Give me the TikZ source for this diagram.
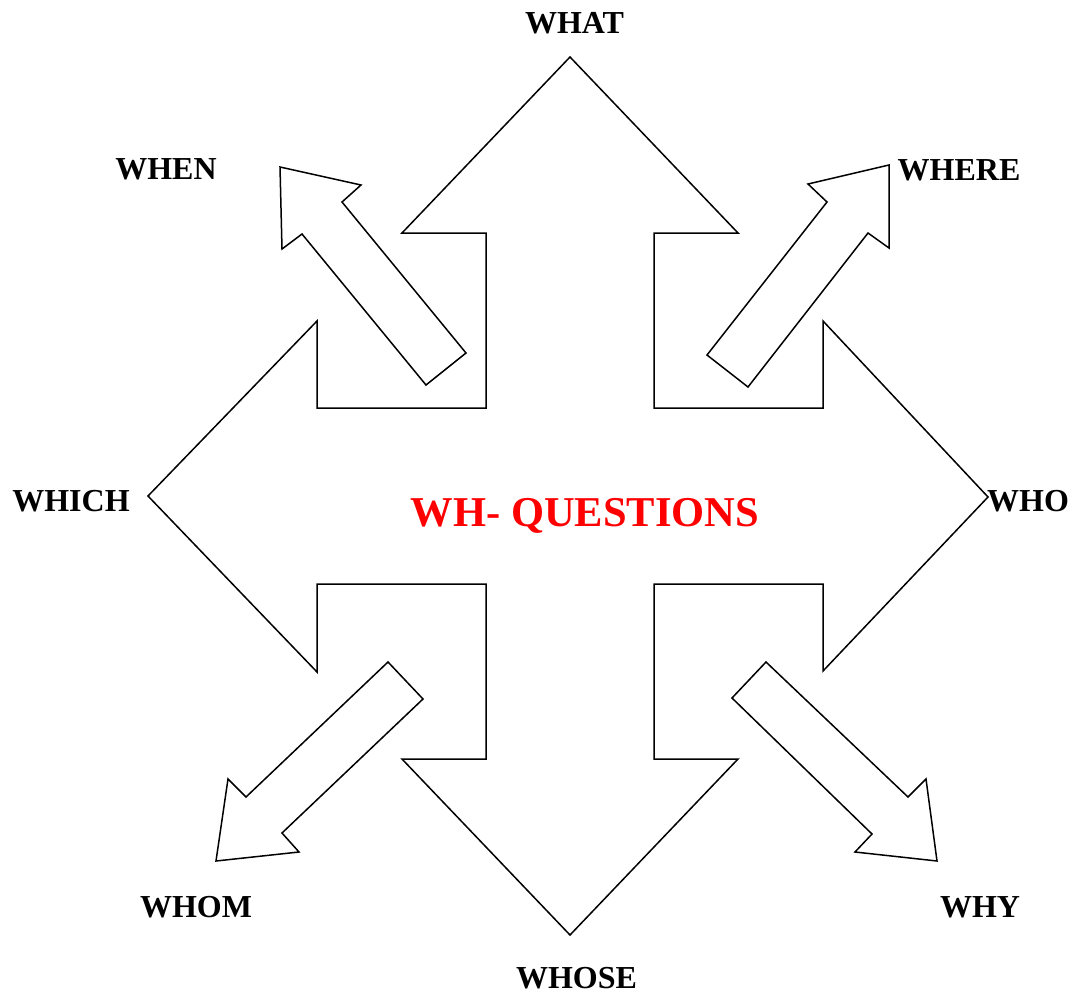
\documentclass[tikz,border=0pt]{standalone}
\usepackage{fontspec}
\setmainfont{Liberation Serif}
\begin{document}
\begin{tikzpicture}[x=1pt,y=-1pt,
  blockarrow/.style={draw=black,fill=white,line width=1.5pt,line join=miter},
  qlabel/.style={anchor=base,inner sep=0pt,font=\fontsize{32}{32}\selectfont\bfseries},
  title/.style={anchor=base,inner sep=0pt,text=red,font=\fontsize{42.5}{42.5}\selectfont\bfseries}]
\useasboundingbox (0,0) rectangle (1079,996);

% four-way block arrow in the middle
\draw[blockarrow] (570,57) -- (738,233) -- (654,233) -- (654,408) -- (823,408)
  -- (823,321) -- (988,497) -- (823,671) -- (823,584) -- (654,584) -- (654,759)
  -- (738,759) -- (570,935) -- (402,759) -- (486,759) -- (486,584) -- (317,584)
  -- (317,672) -- (148,496) -- (317,321) -- (317,408) -- (486,408) -- (486,233)
  -- (402,233) -- cycle;

% diagonal arrows
\draw[blockarrow] (280,167) -- (361,185) -- (342,202) -- (466,353) -- (426,385)
  -- (302,234) -- (282,249) -- cycle;
\draw[blockarrow] (889,165) -- (889,248) -- (868,233) -- (748,387) -- (707,355)
  -- (827,202) -- (808,184) -- cycle;
\draw[blockarrow] (388,662) -- (423,699) -- (282,833) -- (299,852) -- (216,861)
  -- (228,779) -- (246,797) -- cycle;
\draw[blockarrow] (766,662) -- (732,698) -- (872,834) -- (855,852) -- (937,861)
  -- (926,779) -- (908,797) -- cycle;

% labels
\node[title] (center) at (585,526) {WH- QUESTIONS};
\node[qlabel] (what)  at (574.5,33) {WHAT};
\node[qlabel] (when)  at (166,179) {WHEN};
\node[qlabel] (where) at (959,180) {WHERE};
\node[qlabel] (which) at (71,511) {WHICH};
\node[qlabel] (who)   at (1028,511) {WHO};
\node[qlabel] (whom)  at (196,917) {WHOM};
\node[qlabel] (why)   at (980,917) {WHY};
\node[qlabel] (whose) at (576.5,988) {WHOSE};
\end{tikzpicture}
\end{document}
